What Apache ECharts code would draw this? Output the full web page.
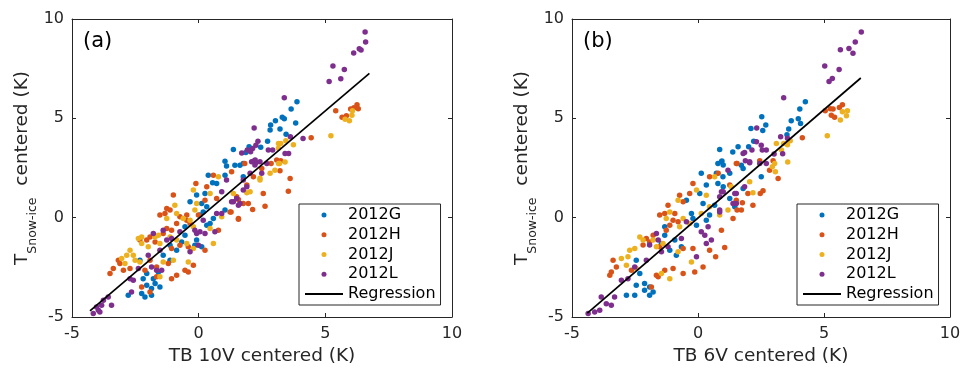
<!DOCTYPE html>
<html>
<head>
<meta charset="utf-8">
<script src="https://cdn.jsdelivr.net/npm/echarts@6/dist/echarts.min.js"></script>
<style>
  html, body { margin: 0; padding: 0; background: #fff; }
  #chart { width: 973px; height: 379px; }
</style>
</head>
<body>
<div id="chart"></div>
<script>
const seriesNames = ['2012G', '2012H', '2012J', '2012L', 'Regression']
const colors = ['#0072BD', '#D95319', '#EDB120', '#7E2F8E', '#000000']
const panelLabels = ['(a)', '(b)']
const xTitles = ['TB 10V centered (K)', 'TB 6V centered (K)']

// panel (a): TB 10V
const gA = [[3.88,5.83],[3.65,5.47],[3.30,5.05],[3.38,4.98],[3.03,4.88],[3.83,4.76],[2.84,4.66],[2.82,4.41],[3.21,4.46],[3.45,4.20],[2.72,3.85],[2.45,3.55],[1.99,3.57],[1.86,3.28],[1.37,3.43],[1.43,2.64],[1.63,2.64],[1.04,2.84],[1.10,2.60],
  [1.76,2.73],[1.04,2.14],[0.71,1.72],[0.55,1.76],[0.38,2.14],[1.76,2.06],[0.25,1.22],[-0.08,1.14],[-0.34,0.80],[0.12,0.71],[0.32,0.55],[1.04,0.38],[0.58,-0.04],[0.45,-0.29],[0.05,0.13],[0.18,0.29],[0.32,-0.38],[-0.54,-0.46],
  [-0.54,-0.88],[-0.08,-1.13],[-0.15,-1.39],[-0.87,-1.64],[-0.67,-1.22],[0.12,-1.47],[-1.13,-1.39],[-2.32,-2.14],[-2.05,-2.81],[-1.79,-3.07],[-1.59,-2.73],[-1.40,-1.89],[-1.13,-2.14],[-1.53,-3.49],[-1.86,-3.57],
  [-2.25,-3.82],[-2.12,-3.99],[-2.78,-3.91],[-1.86,-3.91],[-2.05,-3.40],[-1.72,-3.32],[-2.19,-3.07]]
const hA = [[6.25,5.68],[6.13,5.53],[6.30,5.48],[6.00,5.47],[5.83,5.13],[5.66,5.05],[5.41,5.38],[4.44,4.02],[3.08,2.90],[3.24,2.86],[1.82,2.73],[2.86,2.73],
  [3.21,2.36],[3.61,1.97],[3.54,1.33],[2.55,1.22],[2.13,0.41],[1.57,-0.08],[1.28,0.29],[1.90,1.64],[2.16,2.06],[1.96,0.71],[1.57,0.92],[2.62,0.58],
  [0.58,2.14],[1.30,2.31],[2.49,2.48],[-0.11,1.72],[0.32,1.56],[0.71,0.97],[1.50,1.05],[1.76,0.71],[-1.00,1.14],[0.25,0.88],
  [-1.53,0.13],[-1.33,0.21],[-1.13,0.38],[-1.26,0.46],[-0.74,0.04],[-0.47,0.13],[-0.34,-0.29],[-0.87,-0.29],[-1.07,-0.63],[-0.47,-0.13],[-0.01,0.13],[1.24,0.29],[1.57,-0.04],[0.78,-0.63],
  [-1.92,-0.97],[-2.05,-1.13],[-1.40,-0.80],[-1.26,-0.55],[-1.07,-1.55],[-0.74,-1.39],[-0.41,-1.47],[0.25,-1.64],[-2.32,-1.13],[-1.72,-1.22],
  [-3.11,-2.31],[-3.37,-2.56],[-3.50,-2.81],[-2.97,-2.65],[-2.71,-2.56],[-3.17,-2.14],[-1.66,-2.48],[-1.66,-2.98],[-1.07,-3.07],[-0.87,-2.90],[-0.54,-2.65],[-0.41,-2.73],[-0.21,-2.39],[-1.20,-2.31],[-1.92,-2.14],[-2.12,-2.65],
  [-2.25,-3.49],[-1.92,-3.74]]
const jA = [[6.07,5.38],[6.05,5.16],[5.78,4.96],[5.95,4.88],[5.22,4.12],[3.74,3.67],[3.15,3.73],[3.24,3.73],[3.44,3.87],[3.15,3.50],[3.41,2.80],[3.19,2.73],
  [2.82,2.23],[3.01,2.39],[2.42,1.89],[2.03,1.30],[1.90,1.25],[3.15,2.73],
  [0.78,2.06],[2.42,1.98],[-0.21,1.39],[0.45,1.22],[1.37,1.22],[-0.94,0.63],[-0.08,0.71],
  [-0.87,0.21],[-0.61,-0.04],[-0.34,-0.13],[-0.21,-0.46],[-1.26,-0.04],[0.45,-0.55],[0.91,0.04],[-0.15,0.38],
  [-2.38,-1.05],[-2.25,-0.97],[-1.72,-0.97],[-1.59,-0.88],[-1.99,-1.47],[-2.25,-1.30],[-2.71,-1.64],[-2.58,-1.89],[-1.13,-0.97],[-0.87,-1.13],[-0.47,-1.30],[0.58,-1.30],[-0.21,-1.55],[-1.53,-1.30],
  [-3.04,-2.06],[-2.84,-1.89],[-2.51,-2.14],[-2.91,-2.31],[-2.32,-2.23],[-1.40,-2.23],[-1.53,-2.98],[-1.00,-2.14],[-0.41,-2.23]]
const lA = [[6.57,9.34],[6.59,8.84],[6.12,8.29],[6.34,8.50],[6.41,8.44],[5.30,7.63],[5.75,7.46],[5.15,6.86],[5.61,6.99],[3.38,6.04],[2.19,4.51],[2.34,3.85],[2.26,3.65],[2.13,3.48],[2.05,3.32],[1.70,3.26],[1.92,3.40],[3.62,4.07],[4.12,3.99],[2.75,3.40],[2.92,3.40],[3.41,3.23],[3.55,3.23],[2.16,2.84],[2.26,2.76],[2.42,2.81],[2.69,2.73],
  [2.23,2.90],[2.49,2.23],[2.03,2.23],[1.76,1.39],[1.90,1.55],[1.37,0.80],[1.57,0.63],
  [2.09,2.82],[2.22,2.65],[1.10,1.89],[1.76,1.89],[0.91,1.30],[1.30,0.80],[1.50,0.97],[0.71,0.21],[0.91,0.21],[1.63,0.71],
  [0.18,-0.13],[0.05,-0.71],[0.25,-0.80],[0.64,-0.71],[-0.15,-0.63],
  [-1.79,-0.80],[-1.40,-0.63],[-1.26,-1.13],[-1.07,-1.05],[-1.53,-1.64],[-0.01,-1.39],[-0.08,-0.80],[-0.74,-0.71],[-0.34,-1.72],[-1.99,-1.89],
  [-2.38,-2.56],[-2.71,-3.07],[-2.58,-3.15],[-1.86,-2.48],[-1.66,-2.65],[-1.46,-2.65],
  [-3.76,-4.16],[-3.57,-3.99],[-3.83,-4.41],[-3.44,-4.41],[-3.96,-4.66],[-4.16,-4.83],[-3.90,-4.75],[-4.03,-4.50],[-2.65,-3.74]]
const regA = [[-4.29,-4.69],[6.74,7.26]]

// panel (b): TB 6V
const gB = [[4.26,5.83],[4.04,5.47],[2.53,5.08],[3.70,4.88],[3.98,4.98],[4.07,4.74],[2.69,4.66],[2.10,4.49],[2.57,4.39],[3.60,4.46],[3.53,4.17],[2.21,3.85],[2.01,3.57],[1.59,3.57],[1.38,3.30],[0.86,3.43],[0.95,2.85],[0.79,2.73],[1.72,2.64],
  [1.79,2.48],[0.99,2.06],[2.51,2.06],[1.26,0.97],[1.46,0.55],[0.66,0.63],[0.79,1.72],[1.79,1.47],
  [0.93,2.81],[1.00,2.65],[0.13,2.23],[0.73,2.23],[1.26,2.23],[0.33,1.64],[0.07,1.22],[1.00,1.55],[-0.46,0.88],
  [-0.26,0.21],[-0.20,-0.04],[0.33,-0.13],[0.46,0.13],[0.20,0.71],[-0.06,-0.38],[-1.32,-0.46],
  [-1.32,-0.88],[-0.92,-1.13],[-1.12,-1.64],[-0.66,-1.47],[-1.45,-1.30],[-0.86,-1.89],[-2.45,-2.14],
  [-2.31,-2.81],[-2.45,-3.40],[-2.12,-3.32],[-1.92,-3.49],[-2.12,-3.65],[-2.51,-3.91],[-2.84,-3.91],[-1.92,-3.91],[-1.78,-3.74]]
const hB = [[5.73,5.68],[5.61,5.55],[5.36,5.47],[5.25,5.48],[5.05,5.38],[5.29,5.15],[5.42,5.05],[4.14,4.02],[1.55,2.73],[2.45,2.86],[2.98,2.86],
  [0.93,-0.63],[1.06,-1.50],[0.70,-1.97],[3.18,1.97],[2.47,1.22],[2.58,1.35],[1.98,1.22],[1.76,0.75],[1.55,0.38],[1.39,-0.04],[2.18,0.63],[2.84,2.39],[0.46,-1.64],
  [-0.20,1.72],[0.46,2.06],[1.52,2.73],[0.80,2.23],[1.26,1.64],[-0.73,1.13],[-0.33,1.22],[-0.59,0.80],[1.52,0.88],
  [-1.19,0.63],[-1.52,0.13],[-1.32,0.21],[-0.92,0.21],[-0.99,-0.13],[-0.79,-0.21],[-1.12,-0.38],[1.72,0.38],
  [-2.05,-1.05],[-1.92,-1.22],[-2.18,-1.38],[-1.26,-0.63],[-1.78,-0.88],[-1.52,-1.47],[-0.59,-1.55],[-0.20,-1.55],[0.20,-2.48],
  [-3.37,-2.14],[-3.24,-2.48],[-3.44,-2.73],[-3.50,-2.90],[-1.65,-2.90],[-1.58,-2.98],[-1.32,-2.65],[-0.99,-2.56],[-0.59,-2.81],[-0.13,-2.73],[-2.64,-2.65],[-1.85,-3.49]]
const jB = [[5.73,5.33],[5.93,5.38],[5.89,5.13],[5.65,4.91],[5.13,4.12],[3.11,3.73],[3.40,3.73],[3.55,3.67],[3.66,3.87],[3.31,3.40],[3.56,2.80],[3.04,2.73],[2.95,2.56],
  [3.07,2.31],[2.18,1.25],[1.32,1.55],[1.19,0.38],[0.86,0.13],[2.05,1.81],
  [-0.06,1.39],[0.33,1.13],[0.66,2.06],[-0.79,0.88],
  [-1.12,0.29],[-0.59,-0.04],[-1.26,-0.04],[-0.33,-0.29],[0.46,0.55],[0.13,0.21],[-0.73,-0.46],
  [-2.31,-0.97],[-2.18,-1.13],[-2.71,-1.64],[-2.51,-1.55],[-2.78,-1.97],[-1.78,-1.13],[-1.65,-1.47],[-0.79,-1.72],[-1.39,-1.30],
  [-3.04,-2.06],[-2.84,-2.39],[-2.45,-2.56],[-1.12,-3.07],[-1.45,-2.81],[-0.26,-2.23]]
const lB = [[6.48,9.35],[6.24,8.84],[5.65,8.45],[5.99,8.52],[6.15,8.27],[5.03,7.63],[5.60,7.46],[5.33,7.01],[5.20,6.86],[3.40,6.04],[2.33,4.51],[3.28,4.07],[3.55,4.00],[2.32,3.82],[2.14,3.40],[2.51,3.65],[2.55,3.40],[2.71,3.40],[1.85,3.28],[1.79,3.23],[3.36,3.22],[3.02,3.20],[1.88,2.86],[2.05,2.76],[2.71,2.73],
  [2.05,2.81],[2.45,2.73],[1.52,1.22],[0.93,1.30],[1.39,0.71],[0.86,0.29],[1.19,2.39],
  [1.00,1.30],[0.86,1.05],[1.46,1.22],[1.52,0.71],[1.85,1.55],
  [-0.46,-0.21],[0.13,-0.71],[0.27,-0.88],[0.53,-1.13],[0.33,-1.30],[0.40,-0.46],[-0.66,-1.05],[0.86,0.38],
  [-1.65,-0.80],[-1.92,-1.38],[-1.58,-1.13],[-1.19,-1.47],[-2.05,-2.14],[-1.45,-1.72],[-0.06,-1.97],
  [-3.04,-3.15],[-2.78,-3.07],[-2.51,-2.48],[-3.84,-3.99],[-3.64,-4.33],[-3.44,-4.41],[-3.31,-3.99],[-3.90,-4.66],[-4.10,-4.75],[-4.36,-4.83]]
const regB = [[-4.39,-4.80],[6.46,7.03]]

const axisMin = -5
const axisMax = 10
const axisStep = 5

const FONT = 'DejaVu Sans'
const INK = '#262626'

const panels = [
  { data: [gA, hA, jA, lA], reg: regA, left: 72, width: 380 },
  { data: [gB, hB, jB, lB], reg: regB, left: 572, width: 378 }
]

const grids = []
const xAxes = []
const yAxes = []
const series = []
const titles = []
const legends = []

panels.forEach((p, i) => {
  grids.push({ left: p.left, top: 19, width: p.width, height: 298 })

  const base = {
    gridIndex: i, type: 'value', min: axisMin, max: axisMax, interval: axisStep,
    axisLine: { show: true, onZero: false, lineStyle: { color: INK, width: 1 } },
    axisTick: { show: true, inside: true, length: 4, lineStyle: { color: INK } },
    splitLine: { show: false }
  }
  xAxes.push(Object.assign({}, base, {
    position: 'bottom',
    axisLabel: { color: INK, fontSize: 16, fontFamily: FONT, margin: 9 },
    name: xTitles[i], nameLocation: 'middle', nameGap: 30,
    nameTextStyle: { color: INK, fontSize: 18.5, fontFamily: FONT }
  }))
  xAxes.push(Object.assign({}, base, { position: 'top', axisLabel: { show: false } }))
  yAxes.push(Object.assign({}, base, {
    position: 'left',
    axisLabel: { color: INK, fontSize: 16, fontFamily: FONT, margin: 8 },
    name: '{t|T}{s|Snow-ice}{m|  centered (K)}', nameLocation: 'middle', nameRotate: 90, nameGap: 18,
    nameTextStyle: {
      color: INK, fontFamily: FONT,
      rich: {
        t: { fontSize: 18.5, fontFamily: FONT, color: INK },
        s: { fontSize: 12.5, fontFamily: FONT, color: INK, padding: [22, 0, 0, 0] },
        m: { fontSize: 18.5, fontFamily: FONT, color: INK }
      }
    }
  }))
  yAxes.push(Object.assign({}, base, { position: 'right', axisLabel: { show: false } }))

  p.data.forEach((d, k) => {
    series.push({
      name: seriesNames[k], type: 'scatter', data: d,
      xAxisIndex: i * 2, yAxisIndex: i * 2,
      symbol: 'circle', symbolSize: 5.5,
      itemStyle: { color: colors[k], opacity: 1 }
    })
  })
  series.push({
    name: seriesNames[4], type: 'line', data: p.reg,
    xAxisIndex: i * 2, yAxisIndex: i * 2,
    symbol: 'none', z: 5,
    itemStyle: { color: '#000' },
    lineStyle: { color: '#000', width: 1.7 }
  })

  titles.push({
    text: panelLabels[i], left: p.left + 11, top: 31, padding: 0,
    textStyle: { fontSize: 21, fontWeight: 'normal', fontFamily: FONT, color: '#000' }
  })

  legends.push({
    data: seriesNames.slice(0, 4).concat([{ name: seriesNames[4], itemStyle: { opacity: 0 } }]),
    orient: 'vertical',
    left: p.left + p.width - 153, top: 204,
    padding: [2, 5, 2, 5], itemGap: 1.75,
    itemWidth: 38, itemHeight: 5,
    backgroundColor: '#fff', borderColor: INK, borderWidth: 1, borderRadius: 0,
    textStyle: { fontSize: 16, lineHeight: 18, fontFamily: FONT, color: '#000' },
    selectedMode: false
  })
})

const chart = echarts.init(document.getElementById('chart'), null, { renderer: 'canvas' })
chart.setOption({
  animation: false,
  backgroundColor: '#fff',
  color: colors,
  title: titles,
  legend: legends,
  grid: grids,
  xAxis: xAxes,
  yAxis: yAxes,
  series: series
})
</script>
</body>
</html>
